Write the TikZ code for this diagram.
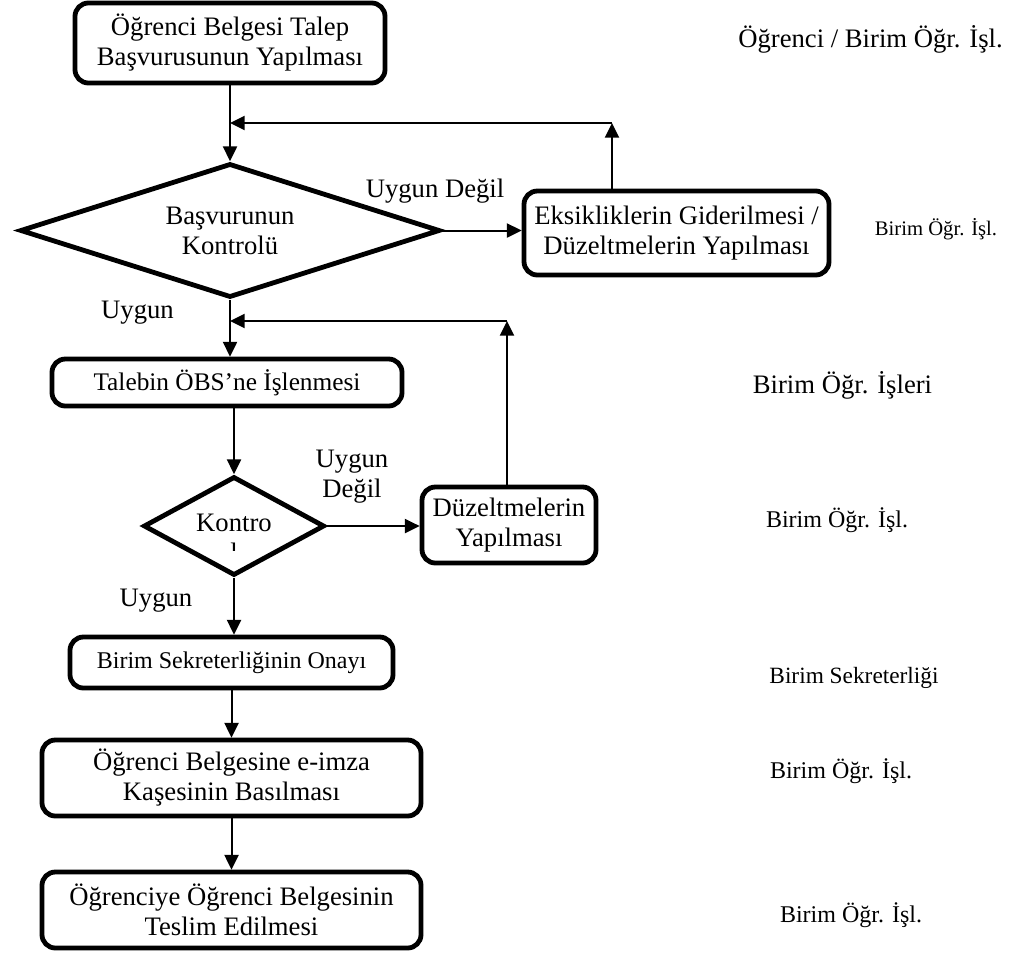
\documentclass[tikz,border=0pt]{standalone}
\usepackage{fontspec}
\setmainfont{Liberation Serif}
\usetikzlibrary{arrows.meta,shapes.geometric}

\begin{document}
\begin{tikzpicture}[x=0.75pt,y=-0.75pt,
	surec/.style={draw, line width=3.6pt, rounded corners=10pt, align=center, inner sep=0pt, font=\fontsize{20}{22.5}\selectfont},
	karar/.style={draw, diamond, line width=3.6pt, inner sep=0pt, align=center, font=\fontsize{20}{22.5}\selectfont},
	akis/.style={draw, line width=1.5pt, -{Triangle[length=11pt,width=10.5pt]}},
	etiket/.style={align=center, inner sep=0pt, font=\fontsize{20}{22.5}\selectfont},
	rol/.style={anchor=base, inner sep=0pt}]
	\useasboundingbox (0,0) rectangle (1020,953);

	\node[surec, minimum width=232.5pt, minimum height=60pt] (talep) at (230,43) {Öğrenci Belgesi Talep\\Başvurusunun Yapılması};
	\node[karar, aspect=3.1, minimum width=315pt, minimum height=100.5pt] (kontrol1) at (230,230.5) {Başvurunun\\Kontrolü};
	\node[surec, minimum width=228.75pt, minimum height=63pt] (eksik) at (676.5,233) {Eksikliklerin Giderilmesi /\\Düzeltmelerin Yapılması};
	\node[surec, minimum width=262.5pt, minimum height=35.25pt, font=\fontsize{19}{22}\selectfont] (obs) at (227,382.5) {Talebin ÖBS’ne İşlenmesi};
	\node[karar, minimum width=135.75pt, minimum height=74.25pt] (kontrol2) at (234,526) {};
	\begin{scope}
		\clip (150,495) rectangle (320,550);
		\node[etiket] (kontrolyazi) at (234,538) {Kontro\\l};
	\end{scope}
	\node[surec, minimum width=130.5pt, minimum height=57pt] (duzelt) at (509,525) {Düzeltmelerin\\Yapılması};
	\node[surec, minimum width=242.25pt, minimum height=38.25pt, font=\fontsize{18}{21}\selectfont] (onay) at (231.5,662.5) {Birim Sekreterliğinin Onayı};
	\node[surec, minimum width=284.25pt, minimum height=57pt] (imza) at (231.5,778) {Öğrenci Belgesine e-imza\\Kaşesinin Basılması};
	\node[surec, minimum width=284.25pt, minimum height=57pt] (teslim) at (231.5,910) {Öğrenciye Öğrenci Belgesinin\\Teslim Edilmesi};

	\node[etiket, anchor=base] (degil1) at (435,197) {Uygun Değil};
	\node[etiket, anchor=base] (uygun1) at (137.5,318) {Uygun};
	\node[etiket] (degil2) at (352,477) {Uygun\\Değil};
	\node[etiket, anchor=base] (uygun2) at (156,606) {Uygun};

	\node[rol, font=\fontsize{20}{24}\selectfont] (rol1) at (870.5,47) {Öğrenci / Birim Öğr. İşl.};
	\node[rol, font=\fontsize{15.5}{18}\selectfont] (rol2) at (936,235) {Birim Öğr. İşl.};
	\node[rol, font=\fontsize{20}{24}\selectfont] (rol3) at (842.5,393) {Birim Öğr. İşleri};
	\node[rol, font=\fontsize{18}{21}\selectfont] (rol4) at (837,527) {Birim Öğr. İşl.};
	\node[rol, font=\fontsize{17.5}{21}\selectfont] (rol5) at (854,683) {Birim Sekreterliği};
	\node[rol, font=\fontsize{18}{21}\selectfont] (rol6) at (841,778) {Birim Öğr. İşl.};
	\node[rol, font=\fontsize{18}{21}\selectfont] (rol7) at (851,922) {Birim Öğr. İşl.};

	\coordinate (geri1) at (612,123);
	\coordinate (geri2) at (507,321);

	\path[akis] (talep) -- (kontrol1);
	\path[akis] (kontrol1.east) -- (kontrol1.east -| eksik.west);
	\path[akis] (eksik.north -| geri1) -- (geri1);
	\path[akis] (geri1) -- (geri1 -| talep.south);
	\path[akis] (kontrol1.south) -- (kontrol1.south |- obs.north);
	\path[akis] (obs.south -| kontrol2.north) -- (kontrol2.north);
	\path[akis] (kontrol2.east) -- (kontrol2.east -| duzelt.west);
	\path[akis] (duzelt.north -| geri2) -- (geri2);
	\path[akis] (geri2) -- (geri2 -| kontrol1.south);
	\path[akis] (kontrol2.south) -- (kontrol2.south |- onay.north);
	\path[akis] (onay) -- (imza);
	\path[akis] (imza) -- (teslim);
\end{tikzpicture}
\end{document}
